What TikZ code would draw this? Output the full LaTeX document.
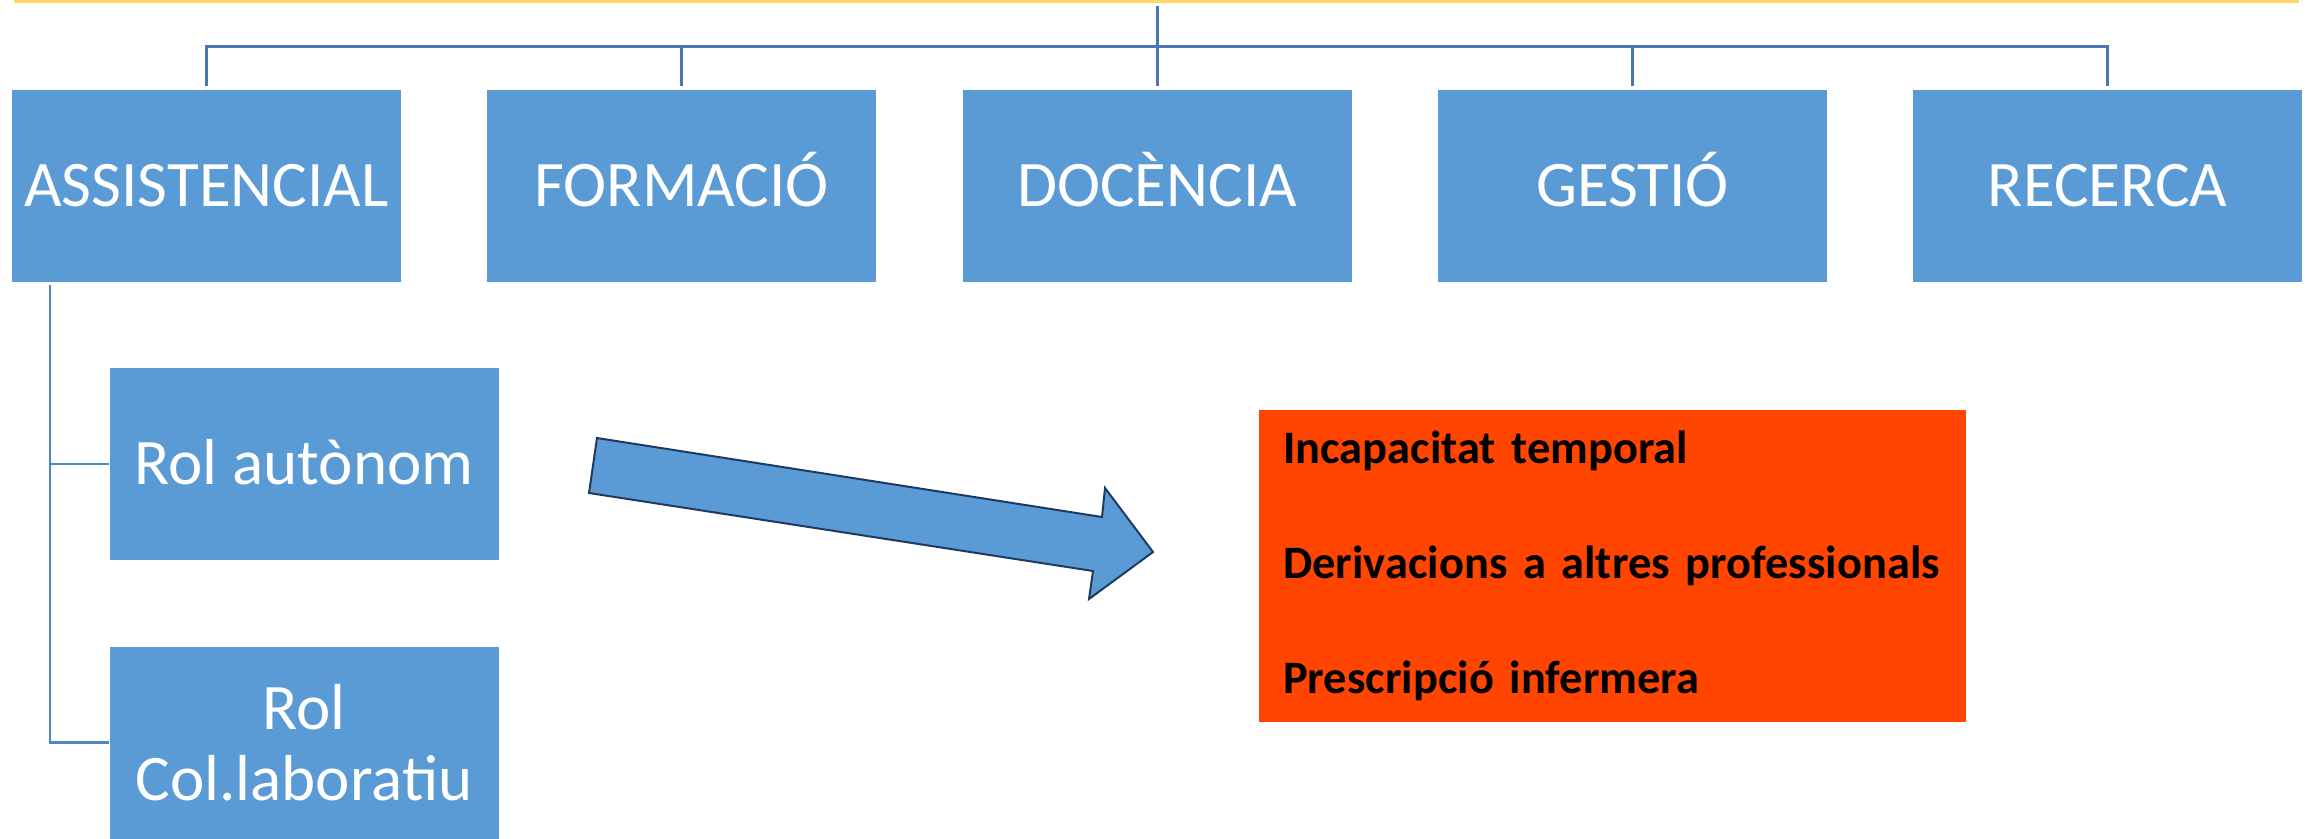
\documentclass[tikz,border=0pt]{standalone}
\usepackage{fontspec}
\setmainfont{Carlito}
\usepackage{tikz}
\usetikzlibrary{positioning}

\definecolor{boxblue}{HTML}{5B9BD5}
\definecolor{linkblue}{HTML}{4A78AE}
\definecolor{twigblue}{HTML}{4E86C5}
\definecolor{arrowedge}{HTML}{1F3A5F}
\definecolor{taskorange}{HTML}{FF4500}
\definecolor{topyellow}{HTML}{FFD966}

\begin{document}
\begin{tikzpicture}[x=1pt, y=-1pt,
    area/.style={fill=boxblue, draw=white, line width=1pt, minimum width=390pt,
        minimum height=193pt, inner sep=0pt, text=white, align=center,
        font=\fontsize{65}{71}\selectfont},
    oneline/.style={text height=41pt, text depth=0pt},
    link/.style={draw=linkblue, line width=3pt},
    twig/.style={draw=twigblue, line width=2.5pt},
    bigarrow/.style={fill=boxblue, draw=arrowedge, line width=2pt, line join=miter}]

    \useasboundingbox (0,0) rectangle (2315,838);

    % Top line
    \draw[topyellow, line width=3.5pt] (14,1.5) -- (2299,1.5);

    % Nodes
    \node at (206.5,185.5) (assist) [area, oneline] {ASSISTENCIAL};
    \node at (681.8,185.5) (form) [area, oneline] {FORMACIÓ};
    \node at (1157.1,185.5) (doc) [area, oneline] {DOCÈNCIA};
    \node at (1632.4,185.5) (gest) [area, oneline] {GESTIÓ};
    \node at (2107.7,185.5) (rec) [area, oneline] {RECERCA};
    \node at (304,464) (rolaut) [area, oneline] {Rol autònom};
    \node at (304,742.5) (rolcol) [area] {Rol\\Col.laboratiu};
    \node at (1259,410) (tasks) [anchor=north west, fill=taskorange, minimum width=707pt,
        minimum height=312pt, inner xsep=24pt, inner ysep=0pt, text width=659pt,
        align=left, font=\bfseries\fontsize{46.5}{115}\selectfont]
        {Incapacitat temporal\\Derivacions a altres professionals\\Prescripció infermera};

    \coordinate (top) at (1157.1,6);
    \coordinate (hub) at (1157.1,46);
    \coordinate (trunk) at (50,285);

    % Connectors
    \draw[link] (top) -- (hub);
    \foreach \b in {assist,form,doc,gest,rec}
        \draw[link, shorten >=3pt] (hub) -| (\b.north);
    \draw[twig] (trunk) |- (rolaut.west);
    \draw[twig] (trunk) |- (rolcol.west);

    % Block arrow
    \draw[bigarrow] (597,438) -- (1102,517) -- (1105,488) -- (1153,552)
        -- (1089,599) -- (1093,571) -- (589,493) -- cycle;

\end{tikzpicture}
\end{document}
